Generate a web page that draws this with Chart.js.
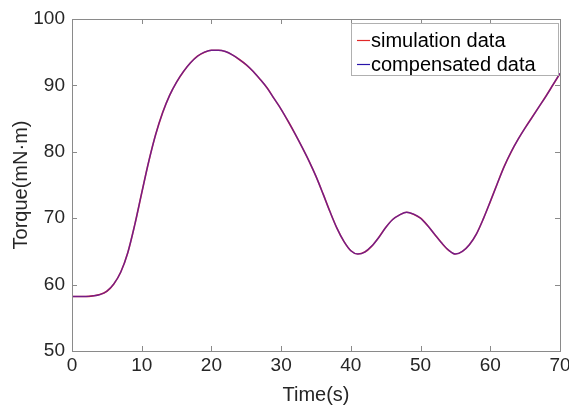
<!DOCTYPE html>
<html>
<head>
<meta charset="utf-8">
<script src="https://cdn.jsdelivr.net/npm/chart.js@4"></script>
<style>
    html, body { margin: 0; padding: 0; background: #fff; }
    #wrap { width: 569px; height: 407px; }
</style>
</head>
<body>
<div id="wrap"><canvas id="torqueChart" width="569" height="407"></canvas></div>
<script>
// time axis (s)
const timeSec = [
    0, 1, 2, 3, 4, 5, 6, 7, 8, 9,
    10, 11, 12, 13, 14, 15, 16, 17, 18, 19,
    20, 21, 22, 23, 24, 25, 26, 27, 28, 29,
    30, 31, 32, 33, 34, 35, 36, 37, 38, 39,
    40, 41, 42, 43, 44, 45, 46, 47, 48, 49,
    50, 51, 52, 53, 54, 55, 56, 57, 58, 59,
    60, 61, 62, 63, 64, 65, 66, 67, 68, 69,
    70
];

// torque (mN·m)
const simulationTorque = [
    58.2, 58.2, 58.2, 58.3, 58.5, 59.0, 60.1, 61.9, 64.8, 69.0,
    73.8, 78.5, 82.6, 85.9, 88.5, 90.5, 92.1, 93.4, 94.4, 95.0,
    95.3, 95.3, 95.1, 94.6, 93.9, 93.1, 92.1, 90.9, 89.6, 88.0,
    86.4, 84.6, 82.7, 80.7, 78.6, 76.3, 73.7, 71.0, 68.5, 66.5,
    65.1, 64.6, 64.9, 65.8, 67.1, 68.6, 69.8, 70.5, 70.9, 70.6,
    70.0, 68.9, 67.6, 66.3, 65.2, 64.6, 65.0, 66.0, 67.6, 69.9,
    72.5, 75.2, 77.8, 80.0, 81.9, 83.6, 85.2, 86.8, 88.4, 90.1,
    91.8
];

const compensatedTorque = [
    58.2, 58.2, 58.2, 58.3, 58.5, 59.0, 60.1, 61.9, 64.8, 69.0,
    73.8, 78.5, 82.6, 85.9, 88.5, 90.5, 92.1, 93.4, 94.4, 95.0,
    95.3, 95.3, 95.1, 94.6, 93.9, 93.1, 92.1, 90.9, 89.6, 88.0,
    86.4, 84.6, 82.7, 80.7, 78.6, 76.3, 73.7, 71.0, 68.5, 66.5,
    65.1, 64.6, 64.9, 65.8, 67.1, 68.6, 69.8, 70.5, 70.9, 70.6,
    70.0, 68.9, 67.6, 66.3, 65.2, 64.6, 65.0, 66.0, 67.6, 69.9,
    72.5, 75.2, 77.8, 80.0, 81.9, 83.6, 85.2, 86.8, 88.4, 90.1,
    91.8
];

const seriesNames = ["simulation data", "compensated data"];
const xTicks = [0, 10, 20, 30, 40, 50, 60, 70];
const yTicks = [50, 60, 70, 80, 90, 100];

const FONT = "Arial, 'Liberation Sans', sans-serif";
const AXIS_GRAY = "#8a8a8a";
const TEXT_DARK = "#262626";
const RED = "rgb(225, 40, 40)";
const BLUE = "rgba(40, 20, 200, 0.6)";

function toPoints(xs, ys) {
    return xs.map((x, i) => ({ x: x, y: ys[i] }));
}

// box round the axes, with inward ticks on all four sides
const frameTicks = {
    id: "frameTicks",
    afterDraw(chart) {
        const ctx = chart.ctx;
        const a = chart.chartArea;
        const xs = chart.scales.x;
        const ys = chart.scales.y;
        const len = 5;
        ctx.save();
        ctx.strokeStyle = AXIS_GRAY;
        ctx.lineWidth = 1;
        ctx.beginPath();
        xTicks.forEach(v => {
            const px = Math.round(xs.getPixelForValue(v)) + 0.5;
            ctx.moveTo(px, a.bottom); ctx.lineTo(px, a.bottom - len);
            ctx.moveTo(px, a.top); ctx.lineTo(px, a.top + len);
        });
        yTicks.forEach(v => {
            const py = Math.round(ys.getPixelForValue(v)) + 0.5;
            ctx.moveTo(a.left, py); ctx.lineTo(a.left + len, py);
            ctx.moveTo(a.right, py); ctx.lineTo(a.right - len, py);
        });
        ctx.stroke();
        ctx.strokeRect(Math.round(a.left) + 0.5, Math.round(a.top) + 0.5,
            Math.round(a.right - a.left), Math.round(a.bottom - a.top));
        ctx.restore();
    }
};

// matlab-like legend box in the upper right corner
const boxLegend = {
    id: "boxLegend",
    afterDraw(chart) {
        const ctx = chart.ctx;
        const a = chart.chartArea;
        const bx = 351, by = 23;
        const bw = a.right - 2 - bx, bh = 52;
        const colors = [RED, "rgb(40, 20, 170)"];
        ctx.save();
        ctx.fillStyle = "#fff";
        ctx.fillRect(bx, by, bw, bh);
        ctx.strokeStyle = "#b0b0b0";
        ctx.lineWidth = 1;
        ctx.strokeRect(bx + 0.5, by + 0.5, bw, bh);
        ctx.font = "20px " + FONT;
        ctx.textBaseline = "middle";
        chart.data.datasets.forEach((ds, i) => {
            const cy = by + 17 + i * 24;
            ctx.strokeStyle = colors[i];
            ctx.lineWidth = 1.2;
            ctx.beginPath();
            ctx.moveTo(357, cy + 0.5);
            ctx.lineTo(370, cy + 0.5);
            ctx.stroke();
            ctx.fillStyle = "#000";
            ctx.fillText(ds.label, 371, cy + 1);
        });
        ctx.restore();
    }
};

new Chart(document.getElementById("torqueChart").getContext("2d"), {
    type: "line",
    data: {
        datasets: [
            {
                label: seriesNames[0],
                data: toPoints(timeSec, simulationTorque),
                borderColor: RED,
                borderWidth: 1.6,
                pointRadius: 0,
                cubicInterpolationMode: "monotone",
                order: 2
            },
            {
                label: seriesNames[1],
                data: toPoints(timeSec, compensatedTorque),
                borderColor: BLUE,
                borderWidth: 1.4,
                pointRadius: 0,
                cubicInterpolationMode: "monotone",
                order: 1
            }
        ]
    },
    options: {
        responsive: false,
        animation: false,
        layout: { padding: { left: 0, right: 9, top: 19, bottom: 0 } },
        plugins: {
            legend: { display: false },
            tooltip: { enabled: false }
        },
        scales: {
            x: {
                type: "linear",
                min: 0,
                max: 70,
                afterBuildTicks: s => { s.ticks = xTicks.map(v => ({ value: v })); },
                afterFit: s => { s.height = 56; s.paddingLeft = 0; s.paddingRight = 0; },
                grid: { display: false, drawTicks: false },
                border: { display: false },
                ticks: {
                    padding: 3,
                    maxRotation: 0,
                    color: TEXT_DARK,
                    font: { size: 19, family: FONT }
                },
                title: {
                    display: true,
                    text: "Time(s)",
                    color: TEXT_DARK,
                    padding: { top: 0, bottom: 0 },
                    font: { size: 20, family: FONT }
                }
            },
            y: {
                min: 50,
                max: 100,
                afterBuildTicks: s => { s.ticks = yTicks.map(v => ({ value: v })); },
                afterFit: s => { s.width = 72; s.paddingTop = 0; s.paddingBottom = 0; },
                grid: { display: false, drawTicks: false },
                border: { display: false },
                ticks: {
                    padding: 7,
                    color: TEXT_DARK,
                    font: { size: 19, family: FONT }
                },
                title: {
                    display: true,
                    text: "Torque(mN·m)",
                    color: TEXT_DARK,
                    padding: { top: 9, bottom: 0 },
                    font: { size: 20, family: FONT }
                }
            }
        }
    },
    plugins: [frameTicks, boxLegend]
});
</script>
</body>
</html>
